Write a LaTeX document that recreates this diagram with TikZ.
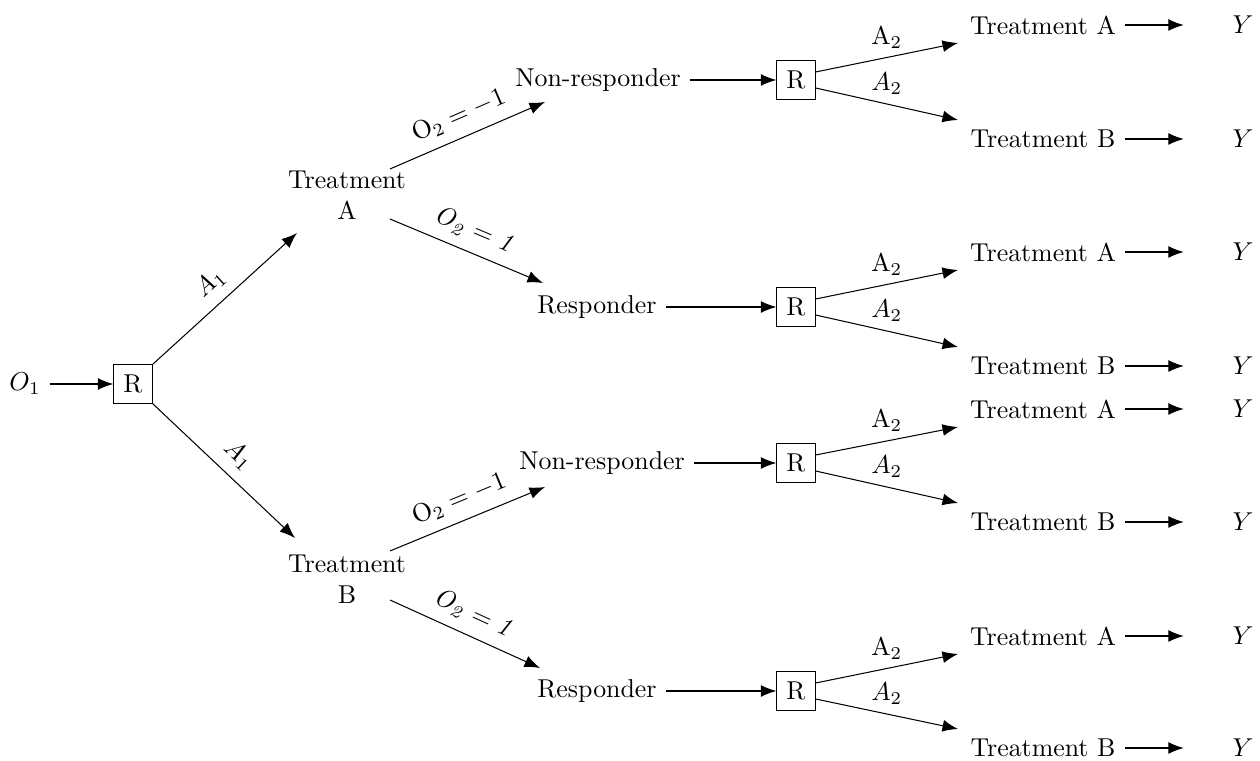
\documentclass[tikz,border=0pt]{standalone}
\usepackage{amsmath}
\usetikzlibrary{arrows.meta}

\begin{document}
\begin{tikzpicture}[x=0.0136cm, y=-0.0136cm,
        arr/.style={-{Latex[length=6pt,width=4.6pt]}},
        rbox/.style={draw, minimum size=0.52cm, inner sep=0pt},
        twoline/.style={align=center},
        toY/.style={arr, shorten >=0.54cm},
        lbl/.style={midway, above, sloped, inner sep=4pt}]
    \useasboundingbox (0,0) rectangle (1260,761);

    \node              (o1)   at (  25,384) {$O_1$};
    \node[rbox]        (r0)   at ( 133,384) {R};
    \node[twoline]     (trtA) at ( 347,195) {Treatment\\A};
    \node[twoline]     (trtB) at ( 347,579) {Treatment\\B};
    \node              (nonA) at ( 598, 80) {Non-responder};
    \node              (resA) at ( 597,307) {Responder};
    \node              (nonB) at ( 602,463) {Non-responder};
    \node              (resB) at ( 597,691) {Responder};
    \node[rbox]        (rA)   at ( 796, 80) {R};
    \node[rbox]        (rB)   at ( 796,307) {R};
    \node[rbox]        (rC)   at ( 796,463) {R};
    \node[rbox]        (rD)   at ( 796,691) {R};

    \foreach \n/\yy/\lab in {AA/25/A, AB/139/B, BA/252/A, BB/366/B, CA/409/A, CB/522/B, DA/636/A, DB/748/B} {
        \node (t\n) at (1043,\yy) {Treatment \lab};
        \node (y\n) at (1243,\yy) {$Y$};
        \draw[toY] (t\n) -- (y\n);
    }

    \draw[arr] (o1) -- (r0);
    \draw[arr] (r0.north east) -- ([shift={(-50,38)}]trtA.center)  node[lbl] {$A_1$};
    \draw[arr] (r0.south east) -- ([shift={(-52,-41)}]trtB.center) node[lbl] {$A_1$};

    \draw[arr] ([shift={(43,-26)}]trtA.center) -- ([shift={(-53,22)}]nonA.center)  node[lbl] {$\mathrm{O}_2 = -1$};
    \draw[arr] ([shift={(43,24)}]trtA.center)  -- ([shift={(-54,-24)}]resA.center) node[lbl] {$\mathit{O_2 = 1}$};
    \draw[arr] ([shift={(43,-28)}]trtB.center) -- ([shift={(-57,24)}]nonB.center)  node[lbl] {$\mathrm{O}_2 = -1$};
    \draw[arr] ([shift={(43,21)}]trtB.center)  -- ([shift={(-57,-23)}]resB.center) node[lbl] {$\mathit{O_2 = 1}$};

    \draw[arr] (nonA) -- (rA);
    \draw[arr] (resA) -- (rB);
    \draw[arr] (nonB) -- (rC);
    \draw[arr] (resB) -- (rD);

    \foreach \r/\ta/\tb in {rA/tAA/tAB, rB/tBA/tBB, rC/tCA/tCB, rD/tDA/tDB} {
        \draw[arr] ([shift={(0,-8)}]\r.east) -- ([shift={(-85,18)}]\ta.center)  node[midway, above] {$\mathrm{A}_2$};
        \draw[arr] ([shift={(0,8)}]\r.east)  -- ([shift={(-85,-19)}]\tb.center) node[midway, above] {$A_2$};
    }
\end{tikzpicture}
\end{document}
